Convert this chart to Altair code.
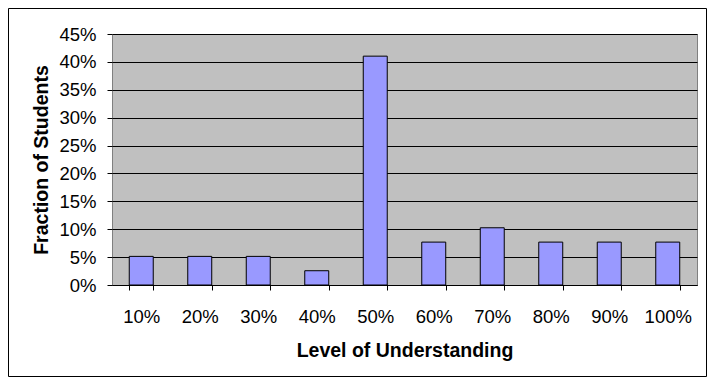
import altair as alt
import pandas as pd

categories = ["10%", "20%", "30%", "40%", "50%", "60%", "70%", "80%", "90%", "100%"]
fractions = [0.0513, 0.0513, 0.0513, 0.0256, 0.4103, 0.0769, 0.1026, 0.0769, 0.0769, 0.0769]
y_ticks = [0, 0.05, 0.10, 0.15, 0.20, 0.25, 0.30, 0.35, 0.40, 0.45]

df = pd.DataFrame({"level": categories, "fraction": fractions})
FONT = "Liberation Sans"

bars = alt.Chart(df).mark_bar(
    fill="#9999FF", stroke="#000000", strokeWidth=1
).encode(
    x=alt.X("level:N", sort=categories,
            scale=alt.Scale(paddingInner=0.59, paddingOuter=0.295),
            axis=alt.Axis(title="Level of Understanding", labelAngle=0,
                          tickBand="extent", tickSize=5, tickColor="#000000",
                          domainColor="#000000", labelFont=FONT, labelFontSize=18.5,
                          labelColor="#000000", labelPadding=17,
                          titleFont=FONT, titleFontSize=19.5, titleFontWeight="bold",
                          titleColor="#000000", titleBaseline="alphabetic",
                          titleY=71, grid=False)),
    y=alt.Y("fraction:Q",
            scale=alt.Scale(domain=[0, 0.45], nice=False),
            axis=alt.Axis(title="Fraction of Students", values=y_ticks, format=".0%",
                          tickSize=5, tickColor="#000000", domain=False,
                          labelFont=FONT, labelFontSize=18.5, labelColor="#000000",
                          labelPadding=11, grid=True, gridColor="#000000",
                          gridOpacity=1, gridWidth=1,
                          titleFont=FONT, titleFontSize=19.5, titleFontWeight="bold",
                          titleColor="#000000", titleAngle=270, titleAlign="center",
                          titleBaseline="alphabetic", titleX=-65, titleY=125.5)),
)

border = alt.Chart(pd.DataFrame({"a": [0]})).mark_rect(
    fill="transparent", stroke="#000000", strokeWidth=1
).encode(
    x=alt.value(-103.5), x2=alt.value(594.5),
    y=alt.value(-25.5), y2=alt.value(342.5),
)

chart = alt.layer(bars, border).properties(
    width=585, height=251,
    autosize=alt.AutoSizeParams(type="none"),
    padding={"left": 104, "top": 26, "right": 10, "bottom": 92},
    background="#FFFFFF",
).configure_view(
    fill="#C0C0C0", stroke="#808080", strokeWidth=1
)

chart.save("out.html", embed_options={"renderer": "svg", "actions": False})
